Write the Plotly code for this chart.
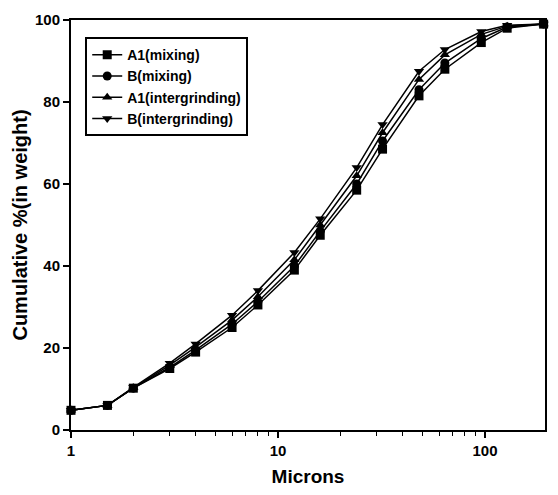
import plotly.graph_objects as go
import math

microns = [1, 1.5, 2, 3, 4, 6, 8, 12, 16, 24, 32, 48, 64, 96, 128, 192]
a1_mixing = [4.8, 6, 10.2, 15.0, 19.0, 25.0, 30.5, 39.0, 47.5, 58.5, 68.5, 81.5, 88.0, 94.5, 98.0, 99.0]
b_mixing = [4.8, 6, 10.2, 15.3, 19.5, 25.8, 31.3, 40.0, 48.5, 60.0, 70.5, 83.0, 89.5, 95.5, 98.3, 99.0]
a1_intergrinding = [4.8, 6, 10.3, 15.8, 20.2, 26.8, 32.5, 41.5, 50.0, 62.0, 72.5, 85.5, 91.5, 96.5, 98.5, 99.0]
b_intergrinding = [4.8, 6, 10.4, 16.3, 21.0, 28.0, 34.0, 43.3, 51.5, 64.0, 74.5, 87.5, 92.8, 97.2, 98.7, 99.0]

series = [
    ("A1(mixing)", a1_mixing, "square"),
    ("B(mixing)", b_mixing, "circle"),
    ("A1(intergrinding)", a1_intergrinding, "triangle-up"),
    ("B(intergrinding)", b_intergrinding, "triangle-down"),
]

fig = go.Figure()
for name, vals, sym in series:
    fig.add_trace(go.Scatter(
        x=microns, y=vals, name=name, mode="lines+markers",
        line=dict(color="black", width=1.5),
        marker=dict(symbol=sym, size=9, color="black"),
        cliponaxis=False,
    ))

font = "Arial, Liberation Sans, sans-serif"
fig.update_layout(
    width=558, height=495,
    margin=dict(l=71, r=11, t=14, b=63),
    plot_bgcolor="white", paper_bgcolor="white",
    font=dict(family=font, color="black", size=13),
    showlegend=True,
    legend=dict(
        x=0.03, y=0.958, xanchor="left", yanchor="top",
        bordercolor="black", borderwidth=2, bgcolor="white",
        font=dict(size=14, family=font, color="black", weight="bold"),
        tracegroupgap=0, itemwidth=30,
    ),
    xaxis=dict(
        type="log", range=[0, math.log10(195)],
        showgrid=False, zeroline=False,
        showline=True, linecolor="black", linewidth=2, mirror=True,
        ticks="outside", ticklen=6, tickwidth=1.5, tickcolor="black",
        tickvals=[1, 10, 100], ticktext=["1", "10", "100"],
        minor=dict(ticks="outside", ticklen=4, tickwidth=1, tickcolor="black",
                   tickvals=[2, 3, 4, 5, 6, 7, 8, 9, 20, 30, 40, 50, 60, 70, 80, 90]),
        tickfont=dict(size=15, family=font, color="black", weight="bold"),
        title=dict(text="Microns", font=dict(size=19, family=font, color="black", weight="bold"), standoff=12),
    ),
    yaxis=dict(
        range=[0, 100], showgrid=False, zeroline=False,
        showline=True, linecolor="black", linewidth=2, mirror=True,
        ticks="outside", ticklen=6, tickwidth=1.5, tickcolor="black",
        tickvals=[0, 20, 40, 60, 80, 100],
        tickfont=dict(size=15, family=font, color="black", weight="bold"),
        title=dict(text="Cumulative %(in weight)", font=dict(size=20, family=font, color="black", weight="bold"), standoff=2),
    ),
)

fig.write_html("out.html")
